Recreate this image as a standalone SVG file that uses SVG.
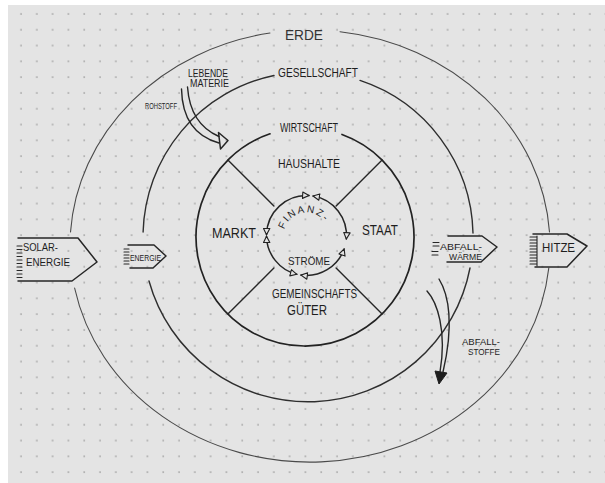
<svg xmlns="http://www.w3.org/2000/svg" width="605" height="483" viewBox="0 0 605 483">
<defs>
<pattern id="dots" patternUnits="userSpaceOnUse" x="13" y="6" width="15.8" height="15.8">
<circle cx="8" cy="8" r="0.8" fill="#8e8e8e"/>
</pattern>
<marker id="oh" viewBox="0 0 10 10" refX="9" refY="5" markerWidth="8" markerHeight="8" markerUnits="userSpaceOnUse" orient="auto-start-reverse">
<path d="M1,1 L9,5 L1,9 Z" fill="#e4e4e4" stroke="#222" stroke-width="1.4" stroke-linejoin="round"/>
</marker>
<path id="finPath" d="M286.58 247 A23 23 0 1 1 329.15 239.49"/>
</defs>
<style>
text{font-family:"Liberation Sans",Arial,sans-serif;fill:#1e1e1e}
.ln{fill:none;stroke:#262626;stroke-linecap:round;stroke-linejoin:round}
.outer{stroke:#4a4a4a;stroke-width:1.1}
.mid{stroke:#2e2e2e;stroke-width:1.4}
.inn{stroke:#222;stroke-width:1.7}
.box{stroke-width:1.5}
.hatch{stroke-width:1.1}
</style>
<rect width="605" height="483" fill="#fff"/>
<rect x="8" y="5" width="597" height="478" fill="#e4e4e4"/>
<rect x="8" y="5" width="597" height="478" fill="url(#dots)"/>

<g id="connectors">
<!-- outer circle: Erde -->
<path class="ln outer" d="M340 31.7 A240 216 0 0 1 549.5 232 M548.8 268 A240 216 0 0 1 74.6 288 M70.5 232 A240 216 0 0 1 270 33"/>
<!-- middle circle: Gesellschaft -->
<path class="ln mid" d="M360 80.4 A165 165 0 0 1 473 233 M470 268 A165 165 0 0 1 149 281 M143.1 232 A165 165 0 0 1 274 75.5"/>
<!-- inner circle: Wirtschaft -->
<path class="ln inn" d="M342 134.5 A109 109 0 1 1 270 133.8"/>
<!-- spokes -->
<path class="ln" stroke-width="1.4" d="M273.9 205.9 L227.9 159.9 M336.1 205.9 L382.1 159.9 M336.1 268.1 L382.1 314.1 M273.9 268.1 L227.9 314.1"/>
<!-- Finanzstroeme -->
<g class="ln" stroke-width="1.5" marker-start="url(#oh)" marker-end="url(#oh)">
<path d="M266.51 234.8 A40 40 0 0 1 309.01 195.58"/>
<path d="M313.03 196.04 A40 40 0 0 1 346.35 238.99"/>
<path d="M344.16 248.98 A40 40 0 0 1 300.93 275.11"/>
<path d="M296.82 274.31 A40 40 0 0 1 266.51 236.2"/>
</g>
<!-- Rohstoff arrow -->
<path class="ln" stroke-width="1.4" d="M181.5 89 C182 112 190 135 219 143 M187.5 87 C189 108 197 127 219 136.5"/>
<path class="ln" stroke-width="1.5" d="M218.5 132.5 L228 140.5 L220.5 149 Z"/>
<!-- Abfallstoffe arrow -->
<path class="ln" stroke-width="1.4" d="M439 279 C449 295 454 325 443 372 M427 291 C437 302 447 330 440 372"/>
<path d="M435 371 L447 373 L439 384 Z" fill="#1e1e1e" stroke="#1e1e1e" stroke-width="1" stroke-linejoin="round"/>
</g>

<g id="erde"><text x="285" y="40" font-size="15" textLength="38" lengthAdjust="spacingAndGlyphs" style="fill:#333">ERDE</text></g>
<g id="gesellschaft"><text x="278" y="77" font-size="12" textLength="80" lengthAdjust="spacingAndGlyphs">GESELLSCHAFT</text></g>
<g id="wirtschaft"><text x="280" y="132" font-size="12" textLength="58" lengthAdjust="spacingAndGlyphs">WIRTSCHAFT</text></g>
<g id="haushalte"><text x="278" y="168" font-size="13" textLength="62" lengthAdjust="spacingAndGlyphs">HAUSHALTE</text></g>
<g id="markt"><text x="212" y="238" font-size="14" textLength="44" lengthAdjust="spacingAndGlyphs">MARKT</text></g>
<g id="staat"><text x="362" y="235" font-size="14" textLength="36" lengthAdjust="spacingAndGlyphs">STAAT</text></g>
<g id="gemeinschaftsgueter">
<text x="272" y="298" font-size="13.5" textLength="85" lengthAdjust="spacingAndGlyphs">GEMEINSCHAFTS</text>
<text x="287" y="315" font-size="14" textLength="40" lengthAdjust="spacingAndGlyphs">GÜTER</text>
</g>
<g id="finanzstroeme">
<text font-size="10" letter-spacing="1.8"><textPath href="#finPath" startOffset="50%" text-anchor="middle">FINANZ-</textPath></text>
<text x="288" y="265" font-size="11" textLength="42" lengthAdjust="spacingAndGlyphs">STRÖME</text>
</g>
<g id="lebende-materie">
<text x="188" y="76.5" font-size="10.5" textLength="40" lengthAdjust="spacingAndGlyphs">LEBENDE</text>
<text x="190" y="86.5" font-size="10" textLength="39" lengthAdjust="spacingAndGlyphs">MATERIE</text>
</g>
<g id="rohstoff"><text x="145" y="109" font-size="9.5" textLength="32" lengthAdjust="spacingAndGlyphs">ROHSTOFF</text></g>
<g id="solar-energie">
<path class="ln box" d="M18 238 L78 238 L97 262 L72 281 L18 281"/>
<path class="ln hatch" d="M17 246H22M17 249.5H22M17 253H22M17 256.5H22M17 260H22M17 263.5H22M17 267H22M17 270.5H22M17 274H22M17 277.5H22"/>
<text x="23" y="251" font-size="10.5" textLength="35" lengthAdjust="spacingAndGlyphs">SOLAR-</text>
<text x="26" y="266" font-size="11" textLength="44" lengthAdjust="spacingAndGlyphs">ENERGIE</text>
</g>
<g id="energie">
<path class="ln box" d="M128 245 L154 245 L166 256 L153 268 L130 268"/>
<path class="ln hatch" d="M124 249H129M124 252H129M124 255H129M124 258H129M124 261H129M124 264H129"/>
<text x="130" y="260.5" font-size="8.5" textLength="31" lengthAdjust="spacingAndGlyphs">ENERGIE</text>
</g>
<g id="abfallwaerme">
<path class="ln box" d="M448 236 L482 236 L497 247 L481 262 L447 262"/>
<path class="ln hatch" d="M433 242.5H439M433 246H439M432 251.5H438M432 255H438"/>
<text x="440" y="249.5" font-size="9" textLength="42" lengthAdjust="spacingAndGlyphs">ABFALL-</text>
<text x="449" y="259.5" font-size="9" textLength="33" lengthAdjust="spacingAndGlyphs">WÄRME</text>
</g>
<g id="hitze">
<path class="ln box" d="M533 234 L567 234 L587 246 L567 267 L535 267"/>
<path class="ln hatch" d="M537 236V266M530 237H537M530 240H537M530 243H537M530 246H537M530 249H537M530 252H537M530 255H537M530 258H537M530 261H537M530 264H537"/>
<text x="542" y="252" font-size="12" textLength="33" lengthAdjust="spacingAndGlyphs">HITZE</text>
</g>
<g id="abfallstoffe">
<text x="462" y="344.5" font-size="9" textLength="38" lengthAdjust="spacingAndGlyphs">ABFALL-</text>
<text x="468" y="355" font-size="9" textLength="32" lengthAdjust="spacingAndGlyphs">STOFFE</text>
</g>
</svg>
